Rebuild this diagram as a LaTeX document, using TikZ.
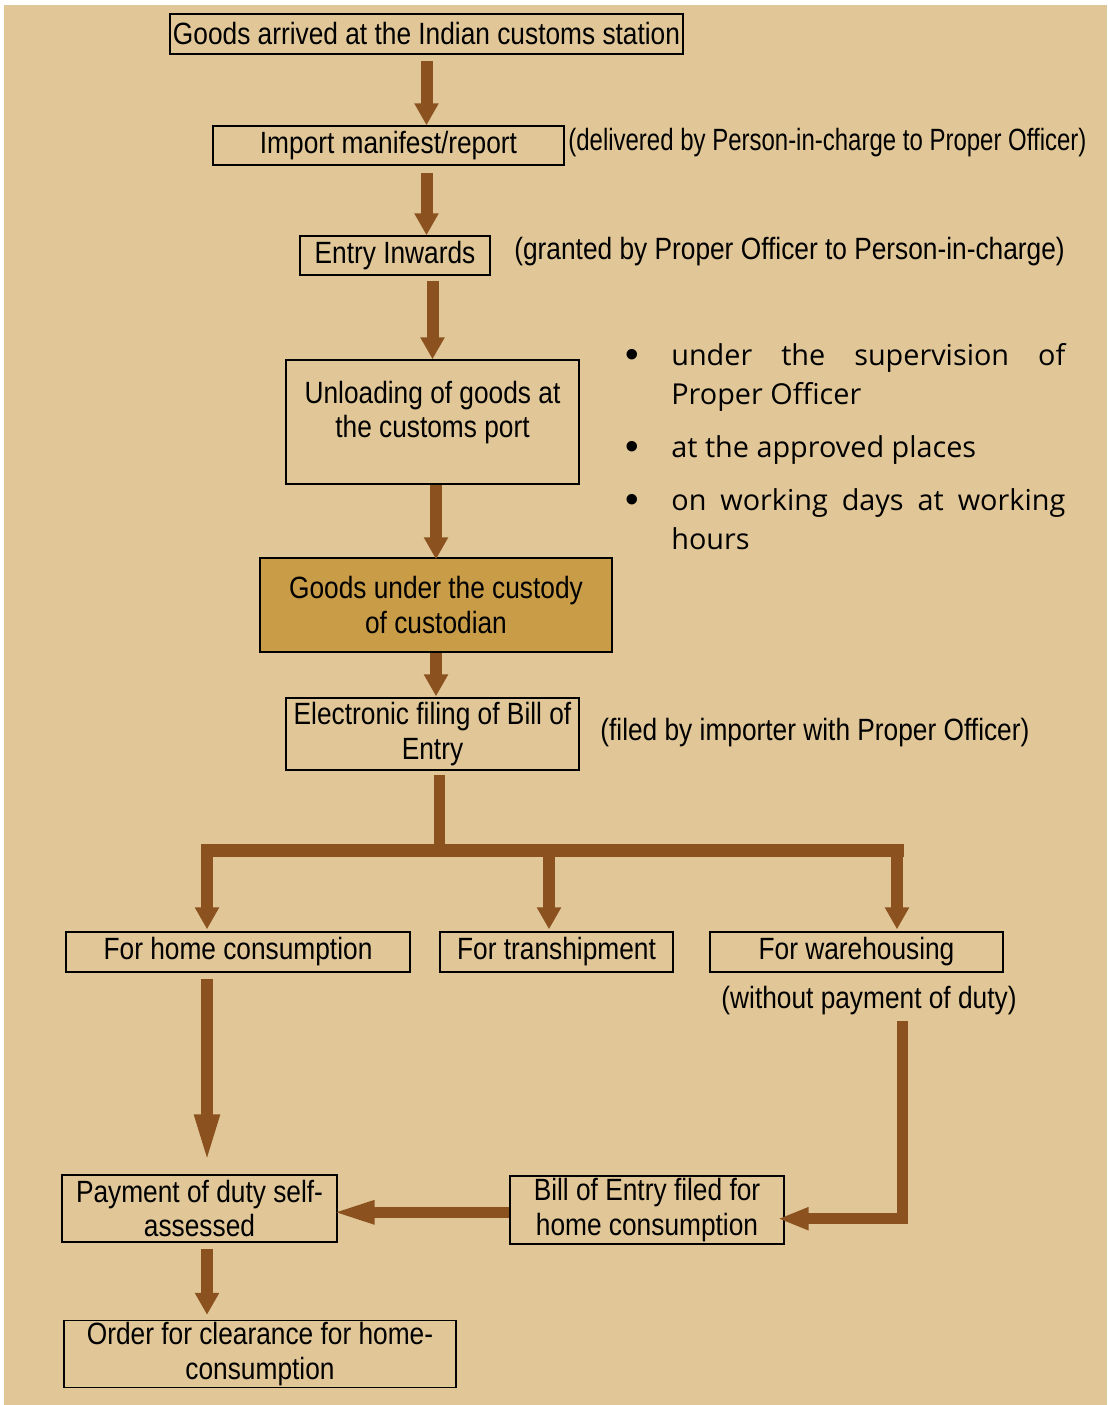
\documentclass[tikz,border=0pt]{standalone}
\usepackage{fontspec}
\setmainfont{Liberation Sans}[FakeStretch=0.855]
\newfontfamily\narrowerfont{Liberation Sans}[FakeStretch=0.78]
\newfontfamily\bulletfont{Open Sans}
\newfontfamily\dotfont{Liberation Sans}
\usetikzlibrary{arrows.meta}

\definecolor{bgbeige}{RGB}{225,199,151}
\definecolor{flowbrown}{RGB}{139,82,32}
\definecolor{custodygold}{RGB}{201,157,72}

\newcommand{\boxfont}{\fontsize{17.5}{19.5}\selectfont}
\newcommand{\condition}[1]{\par\hangindent=0.92cm\hangafter=1\noindent\makebox[0.92cm][l]{\raisebox{-0.04cm}{\dotfont\fontsize{22}{22}\selectfont\textbullet}}#1\par}

\tikzset{
  stage/.style={draw=black, line width=0.8pt, inner sep=0pt, align=center, font=\boxfont},
  note/.style={inner sep=0pt, font=\boxfont},
  flow/.style={draw=flowbrown, line width=0.24cm, -{Triangle[length=0.44cm,width=0.46cm]}},
  longflow/.style={draw=flowbrown, line width=0.24cm, -{Triangle[length=1.04cm,width=0.44cm]}},
  sideflow/.style={draw=flowbrown, line width=0.23cm, -{Triangle[length=0.62cm,width=0.42cm]}},
  backflow/.style={draw=flowbrown, line width=0.21cm, -{Triangle[length=0.88cm,width=0.42cm]}},
}

\begin{document}
\begin{tikzpicture}[x=0.02cm,y=-0.02cm]
    \useasboundingbox (0,0) rectangle (1107,1405);
    \fill[bgbeige] (4,5) rectangle (1107,1405);

    % main column
    \node[stage, minimum width=10.26cm, minimum height=0.8cm] (arrived) at (426.5,34) {Goods arrived at the Indian customs station};
    \node[stage, minimum width=7.02cm, minimum height=0.78cm] (manifest) at (388.5,145.5) {Import manifest/report};
    \node[note, anchor=west] (delivered) at (568,143) {\narrowerfont (delivered by Person-in-charge to Proper Officer)};
    \node[stage, minimum width=3.8cm, minimum height=0.78cm] (inwards) at (395,255.5) {Entry Inwards};
    \node[note, anchor=west] (granted) at (514,252) {(granted by Proper Officer to Person-in-charge)};
    \node[stage, minimum width=5.86cm, minimum height=2.48cm] (unloading) at (432.5,422) {Unloading of goods at\\ the customs port\rule[-0.5cm]{0pt}{0pt}};
    \node[stage, fill=custodygold, minimum width=7.04cm, minimum height=1.88cm] (custody) at (436,605) {Goods under the custody\\ of custodian};
    \node[stage, minimum width=5.86cm, minimum height=1.44cm] (efiling) at (432.5,734) {Electronic filing of Bill of\\ Entry};
    \node[note, anchor=west] (filed) at (600,733) {(filed by importer with Proper Officer)};

    \node[anchor=north west, inner sep=0pt, text width=8.8cm, align=justify,
          font=\bulletfont\fontsize{16.4}{22.2}\selectfont] (conditions) at (625,312) {%
      \sloppy\hyphenpenalty=10000\setlength{\parskip}{0.28cm}%
      \condition{under the supervision of Proper Officer}%
      \condition{at the approved places}%
      \condition{on working days at working hours}};

    % three ways
    \node[stage, minimum width=6.88cm, minimum height=0.8cm] (home) at (238,952) {For home consumption};
    \node[stage, minimum width=4.66cm, minimum height=0.8cm] (tranship) at (556.5,952) {For transhipment};
    \node[stage, minimum width=5.86cm, minimum height=0.8cm] (warehouse) at (856.5,952) {For warehousing};
    \node[note] (noduty) at (869,1001) {(without payment of duty)};

    \node[stage, minimum width=5.5cm, minimum height=1.34cm] (payment) at (199.5,1208.5) {Payment of duty self-\\assessed};
    \node[stage, minimum width=5.48cm, minimum height=1.36cm] (billhome) at (647,1210) {Bill of Entry filed for\\ home consumption};
    \node[stage, minimum width=7.84cm, minimum height=1.34cm] (order) at (260,1354) {Order for clearance for home-\\consumption};

    \coordinate (forkL) at (207,850.5);
    \coordinate (forkM) at (549,850.5);
    \coordinate (forkR) at (897,850.5);
    \coordinate (fork) at (439,850.5);
    \coordinate (bend) at (902.5,1218.7);
    \coordinate (backline) at (647,1212.3);

    \draw[flow, shorten <=0.12cm] (arrived.south) -- (arrived.south |- manifest.north);
    \draw[flow, shorten <=0.14cm] (arrived.south |- manifest.south) -- (arrived.south |- inwards.north);
    \draw[flow, shorten <=0.1cm] (unloading.north |- inwards.south) -- (unloading.north);
    \draw[flow, shorten >=-0.04cm] (custody.north |- unloading.south) -- (custody.north);
    \draw[flow, shorten >=0.02cm] (custody.south) -- (custody.south |- efiling.north);

    \draw[draw=flowbrown, line width=0.22cm, shorten <=0.08cm] (fork |- efiling.south) -- (fork);
    \draw[draw=flowbrown, line width=0.26cm, line cap=rect] (forkL) -- (forkR);
    \foreach \leg in {forkL,forkM,forkR} {
      \draw[flow, shorten >=0.04cm] (\leg) -- (\leg |- home.north);
    }

    \draw[longflow, shorten <=0.12cm, shorten >=0.16cm] (forkL |- home.south) -- (forkL |- payment.north);
    \draw[sideflow, shorten <=0.1cm, shorten >=-0.14cm] (bend |- noduty.south) -- (bend) -- (bend -| billhome.east);
    \draw[backflow, shorten >=-0.14cm] (billhome.west |- backline) -- (payment.east |- backline);
    \draw[flow, shorten <=0.12cm, shorten >=0.1cm] (forkL |- payment.south) -- (forkL |- order.north);
\end{tikzpicture}
\end{document}
